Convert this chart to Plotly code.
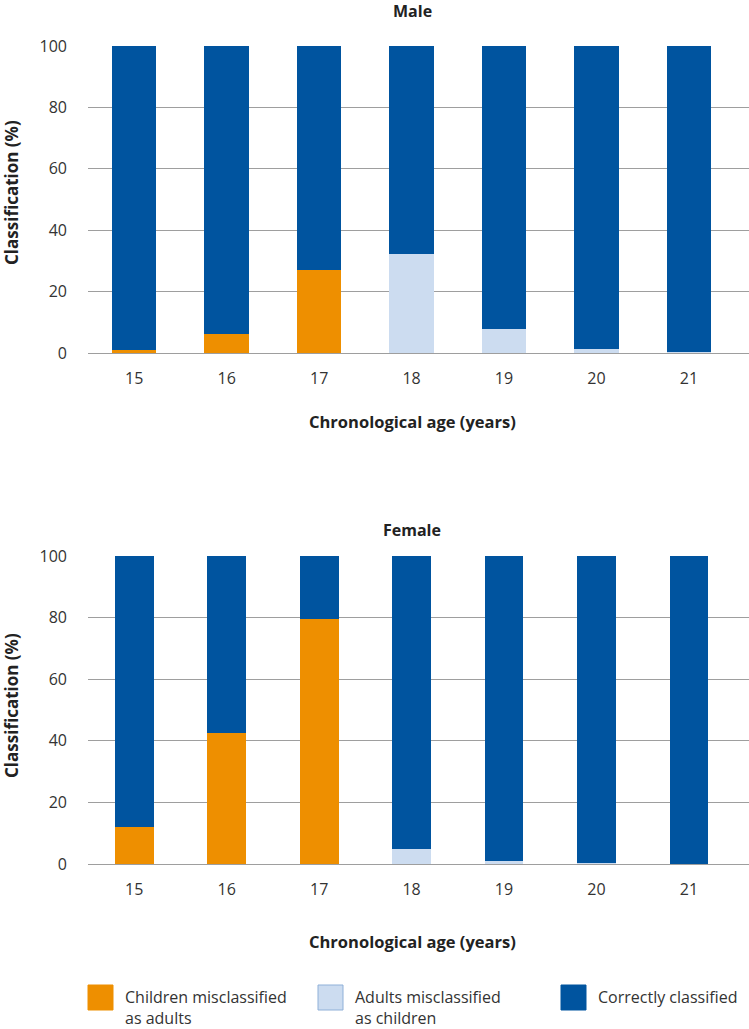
import plotly.graph_objects as go

ages = ["15", "16", "17", "18", "19", "20", "21"]
series_names = ["Children misclassified<br>as adults", "Adults misclassified<br>as children", "Correctly classified"]
colors = ["#EE8F00", "#CCDCF0", "#00549F"]

male_children_as_adults = [1.1, 6.3, 27.1, 0, 0, 0, 0]
male_adults_as_children = [0, 0, 0, 32.2, 7.8, 1.4, 0.3]
male_correct = [98.9, 93.7, 72.9, 67.8, 92.2, 98.6, 99.7]

female_children_as_adults = [12.1, 42.4, 79.6, 0, 0, 0, 0]
female_adults_as_children = [0, 0, 0, 4.9, 1.1, 0.3, 0.1]
female_correct = [87.9, 57.6, 20.4, 95.1, 98.9, 99.7, 99.9]

yticks = [0, 20, 40, 60, 80, 100]

W, H = 749, 1029
FONT = "Open Sans"
fig = go.Figure()

male = [male_children_as_adults, male_adults_as_children, male_correct]
female = [female_children_as_adults, female_adults_as_children, female_correct]
for i in range(3):
    fig.add_trace(go.Bar(x=ages, y=male[i], name=series_names[i], marker_color=colors[i],
                         marker_line_width=0, width=0.48, xaxis="x", yaxis="y", showlegend=False))
for i in range(3):
    fig.add_trace(go.Bar(x=ages, y=female[i], name=series_names[i], marker_color=colors[i],
                         marker_line_width=0, width=0.42, xaxis="x2", yaxis="y2", showlegend=False))

def px_y(y):
    return 1 - y / H

def px_x(x):
    return x / W

axis_common = dict(tickfont=dict(family=FONT, size=16, color="#333333"), automargin=False)
fig.update_layout(
    width=W, height=H, barmode="stack",
    margin=dict(l=0, r=0, t=0, b=0),
    plot_bgcolor="white", paper_bgcolor="white",
    xaxis=dict(domain=[px_x(88), 1], anchor="y", type="category", range=[-0.5, 6.65],
               showgrid=False, ticks="", ticklabelstandoff=14, **axis_common),
    yaxis=dict(domain=[px_y(353), px_y(46)], anchor="x", range=[0, 100], tickvals=yticks,
               showgrid=True, gridcolor="#9E9E9E", gridwidth=1.3, zeroline=True,
               zerolinecolor="#9E9E9E", zerolinewidth=1.3, ticks="", ticklabelstandoff=20, **axis_common),
    xaxis2=dict(domain=[px_x(88), 1], anchor="y2", type="category", range=[-0.5, 6.65],
                showgrid=False, ticks="", ticklabelstandoff=14, **axis_common),
    yaxis2=dict(domain=[px_y(864), px_y(556)], anchor="x2", range=[0, 100], tickvals=yticks,
                showgrid=True, gridcolor="#9E9E9E", gridwidth=1.3, zeroline=True,
                zerolinecolor="#9E9E9E", zerolinewidth=1.3, ticks="", ticklabelstandoff=20, **axis_common),
)

ann = []
title_font = dict(family=FONT, size=16, color="#222222", weight="bold")
for text, y in [("Male", 11), ("Female", 530)]:
    ann.append(dict(text=text, x=px_x(412), y=px_y(y), xref="paper", yref="paper",
                    showarrow=False, xanchor="center", yanchor="middle", font=title_font))
for y in [421, 941]:
    ann.append(dict(text="Chronological age (years)", x=px_x(412), y=px_y(y), xref="paper", yref="paper",
                    showarrow=False, xanchor="center", yanchor="middle",
                    font=dict(family=FONT, size=16.5, color="#222222", weight="bold")))
for y in [193, 706]:
    ann.append(dict(text="Classification (%)", x=px_x(11), y=px_y(y), xref="paper", yref="paper",
                    showarrow=False, xanchor="center", yanchor="middle", textangle=-90,
                    font=dict(family=FONT, size=17, color="#222222", weight="bold")))

shapes = []
legend_x = [88, 318, 561]
for i in range(3):
    x0 = legend_x[i]
    shapes.append(dict(type="rect", xref="paper", yref="paper",
                       x0=px_x(x0), x1=px_x(x0 + 25), y0=px_y(1010), y1=px_y(985),
                       fillcolor=colors[i], line=dict(color="#8FB0D8" if i == 1 else colors[i], width=1)))
    ann.append(dict(text=series_names[i], x=px_x(x0 + 35), y=px_y(984), xref="paper", yref="paper",
                    showarrow=False, xanchor="left", yanchor="top", align="left",
                    font=dict(family=FONT, size=16, color="#333333")))

fig.update_layout(annotations=ann, shapes=shapes)
fig.write_html("out.html", config={"displayModeBar": False},
               post_script="document.body.style.margin='0px';")
